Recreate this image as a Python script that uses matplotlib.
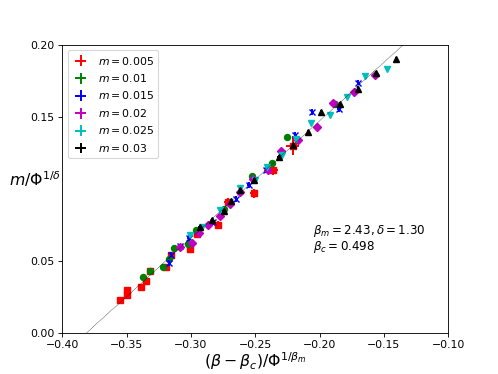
#! /usr/bin/env python
import numpy as np
from matplotlib import pyplot as plt

# m = 0.005
x_005 = [-0.355, -0.350, -0.350, -0.339, -0.335, -0.332, -0.319, -0.3155,
         -0.301, -0.295, -0.279, -0.271, -0.251, -0.236, -0.221]
y_005 = [0.023, 0.026, 0.030, 0.032, 0.036, 0.043, 0.0455, 0.054,
         0.058, 0.069, 0.075, 0.091, 0.097, 0.113, 0.130]
xe_005 = [0.0015, 0.0015, 0.002, 0.0015, 0.0015, 0.0015, 0.0015, 0.0015,
          0.0015, 0.0015, 0.003, 0.003, 0.003, 0.004, 0.005]
ye_005 = [0.0015, 0.0015, 0.002, 0.0015, 0.0015, 0.0015, 0.0015, 0.0015,
          0.0015, 0.0015, 0.003, 0.003, 0.003, 0.0035, 0.0065]

# m = 0.01
x_01 = [-0.337, -0.3316, -0.3217, -0.3174, -0.313, -0.302, -0.296, -0.2746,
        -0.2526, -0.237, -0.225, -0.188]
y_01 = [0.039, 0.043, 0.046, 0.0514, 0.059, 0.062, 0.0716, 0.086,
        0.1087, 0.118, 0.1357, 0.1586]

# m = 0.015
x_015 = [-0.3168, -0.3153, -0.3083, -0.3018, -0.2829, -0.2648, -0.2552,
         -0.2415, -0.2189, -0.206, -0.1852, -0.1702]
y_015 = [0.0486, 0.0544, 0.060, 0.066, 0.0769, 0.0932, 0.1029,
         0.1129, 0.1373, 0.1535, 0.1552, 0.1738]

# m = 0.02
x_02 = [-0.3083, -0.2992, -0.294, -0.287, -0.2772, -0.2694, -0.2617, -0.2518,
        -0.2404, -0.230, -0.2164, -0.2021, -0.1897, -0.1736, -0.1567]
y_02 = [0.0595, 0.0622, 0.0692, 0.075, 0.0815, 0.0892, 0.0978, 0.1071,
        0.1134, 0.1263, 0.1338, 0.143, 0.1593, 0.1675, 0.1791]

# m = 0.025
x_025 = [-0.3005, -0.2915, -0.2772, -0.2617, -0.250, -0.2405, -0.2293,
         -0.2184, -0.2065, -0.1917, -0.1787, -0.1645, -0.1477]
y_025 = [0.0683, 0.0734, 0.085, 0.1008, 0.1059, 0.1152, 0.1233,
         0.1343, 0.1454, 0.151, 0.164, 0.1784, 0.183]

# m = 0.03
x_03 = [-0.2933, -0.2837, -0.2746, -0.2689, -0.2617, -0.2508, -0.2319,
        -0.2207, -0.2086, -0.199, -0.184, -0.1702, -0.156, -0.1404]
y_03 = [0.0734, 0.0785, 0.0845, 0.0915, 0.099, 0.106, 0.1222,
        0.1305, 0.1396, 0.1535, 0.159, 0.1697, 0.1807, 0.190]

# fitted scaling line
fit_x = [-0.381, -0.135]
fit_y = [0.0, 0.2]

fig = plt.figure(figsize=(498/78., 374/78.), dpi=78)
ax = fig.add_subplot(111)

series = [
    (x_005, y_005, xe_005, ye_005, 'r', 's', '$m = 0.005$'),
    (x_01, y_01, 0.0015, 0.0015, 'g', 'o', '$m = 0.01$'),
    (x_015, y_015, 0.001, 0.002, 'b', 'x', '$m = 0.015$'),
    (x_02, y_02, 0.0015, 0.0015, 'm', 'D', '$m = 0.02$'),
    (x_025, y_025, 0.001, 0.001, 'c', 'v', '$m = 0.025$'),
    (x_03, y_03, 0.001, 0.0015, 'k', '^', '$m = 0.03$'),
]

for x, y, xe, ye, c, mk, lab in series:
    ax.errorbar(x, y, xerr=xe, yerr=ye, fmt='none', ecolor=c, elinewidth=1.8,
                label=lab)
    ax.plot(x, y, mk, color=c, ms=5.5, mew=1.3, ls='none')

ax.plot(fit_x, fit_y, 'k--', lw=0.5, dashes=(1.5, 1.2))

ax.text(-0.205, 0.076, r'$\beta_m = 2.43, \delta = 1.30$' + '\n' + r'$\beta_c = 0.498$',
        fontsize=11, va='top', linespacing=1.0)

ax.set_xlim(-0.40, -0.10)
ax.set_ylim(0.0, 0.20)
ax.set_yticks([0.0, 0.05, 0.15, 0.20])
ax.set_xlabel(r'$(\beta - \beta_c)/\Phi^{1/\beta_m}$', fontsize=14.5, labelpad=0)
ax.set_ylabel(r'$m/\Phi^{1/\delta}$', fontsize=14.5, rotation=0)
ax.yaxis.set_label_coords(-0.07, 0.5)
ax.legend(loc='upper left', handlelength=1.6)

fig.savefig('out.png', dpi=78)
